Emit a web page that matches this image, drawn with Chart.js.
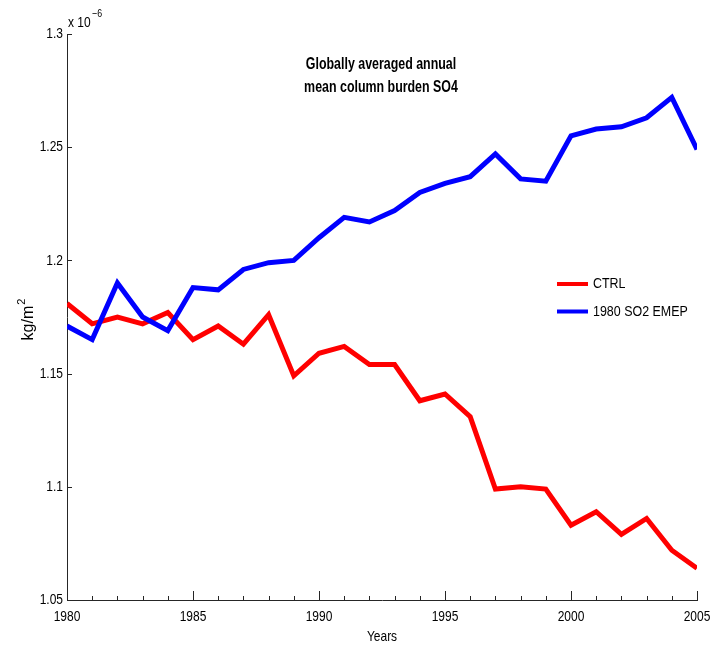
<!DOCTYPE html>
<html>
<head>
<meta charset="utf-8">
<style>
  html, body { margin: 0; padding: 0; background: #ffffff; }
  #wrap { width: 721px; height: 647px; }
</style>
<script src="https://cdn.jsdelivr.net/npm/chart.js@4.4.1/dist/chart.umd.min.js"></script>
</head>
<body>
<div id="wrap"><canvas id="c" width="721" height="647"></canvas></div>
<script>
// Annual mean SO4 column burden, in units of 1e-6 kg/m^2
const years = [1980, 1981, 1982, 1983, 1984, 1985, 1986, 1987, 1988, 1989,
               1990, 1991, 1992, 1993, 1994, 1995, 1996, 1997, 1998, 1999,
               2000, 2001, 2002, 2003, 2004, 2005];
const ctrl = [1.181, 1.172, 1.175, 1.172, 1.177, 1.165, 1.171, 1.163, 1.176, 1.149,
              1.159, 1.162, 1.154, 1.154, 1.138, 1.141, 1.131, 1.099, 1.100, 1.099,
              1.083, 1.089, 1.079, 1.086, 1.072, 1.064];
const emep = [1.171, 1.165, 1.190, 1.175, 1.169, 1.188, 1.187, 1.196, 1.199, 1.200,
              1.210, 1.219, 1.217, 1.222, 1.230, 1.234, 1.237, 1.247, 1.236, 1.235,
              1.255, 1.258, 1.259, 1.263, 1.272, 1.249];
const seriesNames = ['CTRL', '1980 SO2 EMEP'];
const xTickYears = [1980, 1985, 1990, 1995, 2000, 2005];
const yTicks = [1.05, 1.1, 1.15, 1.2, 1.25, 1.3];
const yTickLabels = ['1.05', '1.1', '1.15', '1.2', '1.25', '1.3'];
const titleLines = ['Globally averaged annual', 'mean column burden SO4'];

const FONT = "'Liberation Sans', Arial, Helvetica, sans-serif";
const AXIS_COLOR = '#262626';

function toPoints(vals) {
  return vals.map((v, i) => ({ x: years[i], y: v }));
}

// Condensed text: a normal sans face squeezed horizontally
function condText(ctx, text, x, y, size, sx, align, bold) {
  ctx.save();
  ctx.translate(x, y);
  ctx.scale(sx, 1);
  ctx.font = (bold ? 'bold ' : '') + size + 'px ' + FONT;
  ctx.textAlign = align;
  ctx.textBaseline = 'middle';
  ctx.fillStyle = '#000';
  ctx.fillText(text, 0, 0);
  ctx.restore();
}

// Inward tick marks plus tick labels and axis titles
const axisDecor = {
  id: 'axisDecor',
  afterDatasetsDraw(chart) {
    const { ctx, chartArea: a, scales: { x, y } } = chart;
    ctx.save();
    ctx.strokeStyle = AXIS_COLOR;
    ctx.lineWidth = 1;
    ctx.beginPath();
    years.forEach(yr => {
      const px = Math.round(x.getPixelForValue(yr)) + 0.5;
      const len = yr % 5 === 0 ? 9 : 4;
      ctx.moveTo(px, a.bottom);
      ctx.lineTo(px, a.bottom - len);
    });
    yTicks.forEach(v => {
      const py = Math.round(y.getPixelForValue(v)) + 0.5;
      ctx.moveTo(a.left, py);
      ctx.lineTo(a.left + 5, py);
    });
    ctx.stroke();
    ctx.restore();

    xTickYears.forEach(yr => {
      condText(ctx, String(yr), x.getPixelForValue(yr), a.bottom + 17, 15, 0.8, 'center');
    });
    yTicks.forEach((v, i) => {
      condText(ctx, yTickLabels[i], a.left - 4, y.getPixelForValue(v), 15, 0.8, 'right');
    });

    // axis titles
    condText(ctx, 'Years', (a.left + a.right) / 2, 637, 15, 0.8, 'center');
    ctx.save();
    ctx.translate(29, (a.top + a.bottom) / 2 + 3);
    ctx.rotate(-Math.PI / 2);
    ctx.fillStyle = '#000';
    ctx.textBaseline = 'middle';
    ctx.font = '16px ' + FONT;
    const base = 'kg/m';
    const w = ctx.measureText(base).width;
    ctx.font = '11px ' + FONT;
    const w2 = ctx.measureText('2').width;
    const start = -(w + w2) / 2;
    ctx.font = '16px ' + FONT;
    ctx.textAlign = 'left';
    ctx.fillText(base, start, 0);
    ctx.font = '11px ' + FONT;
    ctx.fillText('2', start + w + 1, -7);
    ctx.restore();
  }
};

// Title, exponent note and legend drawn inside the plot
const annotations = {
  id: 'annotations',
  afterDraw(chart) {
    const { ctx, chartArea: a } = chart;

    condText(ctx, titleLines[0], 381, 64, 17, 0.73, 'center', true);
    condText(ctx, titleLines[1], 381, 87, 17, 0.73, 'center', true);

    condText(ctx, 'x 10', a.left + 1, 23, 15, 0.8, 'left');
    condText(ctx, '\u22126', a.left + 25, 14, 11, 0.8, 'left');

    [0, 1].forEach((i, k) => {
      const ds = chart.data.datasets[i];
      const yy = 284 + k * 27.5;
      ctx.save();
      ctx.strokeStyle = ds.borderColor;
      ctx.lineWidth = 4;
      ctx.beginPath();
      ctx.moveTo(557, yy);
      ctx.lineTo(588, yy);
      ctx.stroke();
      ctx.restore();
      condText(ctx, ds.label, 593, yy, 15, 0.83, 'left');
    });
  }
};

new Chart(document.getElementById('c'), {
  type: 'line',
  data: {
    datasets: [
      { label: seriesNames[0], data: toPoints(ctrl), borderColor: '#ff0000',
        borderWidth: 5, pointRadius: 0, tension: 0, fill: false, order: 1 },
      { label: seriesNames[1], data: toPoints(emep), borderColor: '#0000ff',
        borderWidth: 5, pointRadius: 0, tension: 0, fill: false, order: 0 }
    ]
  },
  options: {
    responsive: false,
    devicePixelRatio: 1,
    animation: false,
    layout: { padding: { top: 34, right: 24, left: 0, bottom: 0 } },
    plugins: { legend: { display: false }, tooltip: { enabled: false }, title: { display: false } },
    scales: {
      x: {
        type: 'linear',
        min: 1980, max: 2005,
        grid: { display: false, drawTicks: false },
        border: { display: true, color: AXIS_COLOR, width: 1 },
        ticks: { display: false, stepSize: 1 },
        afterFit: s => { s.height = 47; }
      },
      y: {
        min: 1.05, max: 1.3,
        grid: { display: false, drawTicks: false },
        border: { display: true, color: AXIS_COLOR, width: 1 },
        ticks: { display: false, stepSize: 0.05 },
        afterFit: s => { s.width = 67; }
      }
    }
  },
  plugins: [axisDecor, annotations]
});
</script>
</body>
</html>
